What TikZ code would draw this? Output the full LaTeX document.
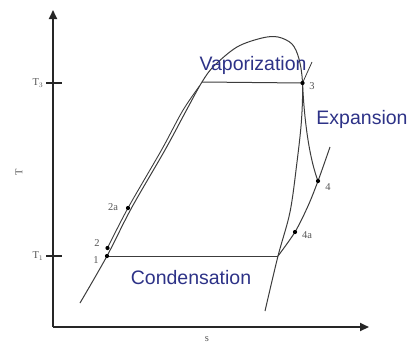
\documentclass[tikz,border=0pt]{standalone}
\usepackage{fontspec}
\setmainfont{Liberation Serif}
\setsansfont{Liberation Sans}
\usetikzlibrary{arrows.meta}
\definecolor{curve}{RGB}{60,60,60}
\definecolor{lbl}{RGB}{45,50,135}
\definecolor{small}{RGB}{85,85,85}
\tikzset{
  axis/.style={line width=2pt, black!85, -{Triangle[length=9pt,width=8pt]}},
  tick/.style={line width=2pt, black!85},
  cline/.style={line width=1pt, curve, line join=round},
  pt/.style={circle, fill=black, inner sep=0pt, minimum size=4.2pt},
  bigtxt/.style={font=\sffamily\fontsize{19.5}{22}\selectfont, text=lbl, inner sep=0pt},
  smalltxt/.style={font=\fontsize{10.5}{12}\selectfont, text=small, inner sep=0pt}
}
\begin{document}
\begin{tikzpicture}[x=1pt,y=-1pt]
\useasboundingbox (0,0) rectangle (411,343);
% named points
\coordinate (O) at (53,327);
\coordinate (Ytop) at (53,10);
\coordinate (Xend) at (369,327);
\coordinate (p1) at (107,256);
\coordinate (p2) at (107.5,248);
\coordinate (p2a) at (128,208);
\coordinate (p3) at (302.5,83);
\coordinate (p4) at (318,181);
\coordinate (p4a) at (295,232);
\coordinate (L3) at (202,82);
\coordinate (R1) at (278,256);
\coordinate (iso3end) at (312,62);
\coordinate (iso1end) at (330,147);
\coordinate (t3a) at (46,83);
\coordinate (t3b) at (62,83);
\coordinate (t1a) at (46,256);
\coordinate (t1b) at (62,256);
% axes
\draw[axis] (O) -- (Ytop);
\draw[axis] (O) -- (Xend);
\draw[tick] (t3a) -- (t3b);
\draw[tick] (t1a) -- (t1b);
% saturation dome
\draw[cline] plot[smooth, tension=0.55] coordinates {(80,303) (p1) (131.5,208) (165,150) (186,111) (L3) (214,66) (237,47) (262,38) (278,37) (292,44) (299,59) (p3) (301.5,120) (297,162) (290,212) (R1) (265,311)};
% pump / heating line
\draw[cline, line width=0.9pt] plot[smooth, tension=0.55] coordinates {(p2) (p2a) (161.5,150) (182.5,111) (199.5,86)};
% isobars
\draw[cline] (L3) -- (p3);
\draw[cline] (p1) -- (R1);
\draw[cline, line width=0.8pt] (p3) -- (iso3end);
\draw[cline] plot[smooth, tension=0.5] coordinates {(R1) (p4a) (308,206) (p4) (iso1end)};
% expansion
\draw[cline] (p3) .. controls (304.5,125) and (310,160) .. (p4);
% dots
\foreach \p in {p1,p2,p2a,p3,p4,p4a} \node[pt] at (\p) {};
% small labels
\node[smalltxt] (lT3) at (38,83) {T$_3$};
\node[smalltxt] (lT1) at (38,256) {T$_1$};
\node[smalltxt, rotate=90] (lT) at (19,172) {T};
\node[smalltxt] (ls) at (207,339) {s};
\node[smalltxt] (l3) at (312,86) {3};
\node[smalltxt] (l4) at (328,187) {4};
\node[smalltxt] (l4a) at (307,235) {4a};
\node[smalltxt] (l2a) at (113,207) {2a};
\node[smalltxt] (l2) at (97,243) {2};
\node[smalltxt] (l1) at (96,260) {1};
% process labels
\node[bigtxt] (vap) at (253,65) {Vaporization};
\node[bigtxt] (exp) at (362,119) {Expansion};
\node[bigtxt] (con) at (191,278) {Condensation};
\end{tikzpicture}
\end{document}
